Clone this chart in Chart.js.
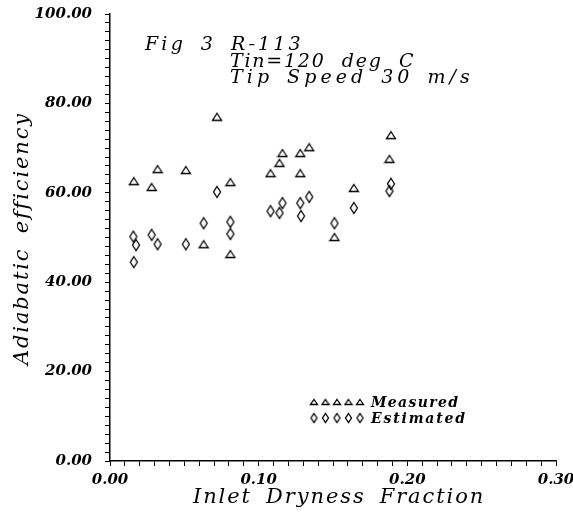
<!DOCTYPE html>
<html lang="en">
<head>
    <meta charset="UTF-8">
    <title>Fig 3 R-113</title>
    <script src="https://cdn.jsdelivr.net/npm/chart.js"></script>
    <style>
        body { margin: 0; background: #fff; }
    </style>
</head>
<body>
    <canvas id="effChart" width="573" height="515"></canvas>

    <script type="text/javascript">
        // values
        var measuredX = [0.016, 0.028, 0.032, 0.051, 0.072, 0.081, 0.063, 0.081, 0.108, 0.114,
                         0.116, 0.128, 0.134, 0.128, 0.164, 0.151, 0.189, 0.188];
        var measuredY = [62.6, 61.3, 65.3, 65.1, 77.0, 62.4, 48.5, 46.3, 64.4, 66.7,
                         68.9, 68.9, 70.2, 64.4, 61.1, 50.1, 72.9, 67.6];

        var estimatedX = [0.0157, 0.0175, 0.016, 0.028, 0.032, 0.051, 0.063, 0.072, 0.081, 0.081,
                          0.108, 0.114, 0.116, 0.128, 0.1285, 0.134, 0.151, 0.164, 0.189, 0.188];
        var estimatedY = [50.2, 48.3, 44.5, 50.6, 48.5, 48.5, 53.2, 60.2, 53.5, 50.8,
                          55.9, 55.5, 57.7, 57.7, 54.8, 59.1, 53.2, 56.6, 62.0, 60.4];

        var xTickLabels = [0, 0.1, 0.2, 0.3];
        var yTickLabels = [0, 20, 40, 60, 80, 100];
        var titleLines = ["Fig 3 R-113", "Tin=120 deg C", "Tip Speed 30 m/s"];
        var seriesNames = ["Measured", "Estimated"];
        var xTitle = "Inlet Dryness Fraction";
        var yTitle = "Adiabatic efficiency";

        function toPoints(xs, ys) {
            return xs.map(function(x, i) { return { x: x, y: ys[i] }; });
        }

        // hollow marker images (the scan's diamonds are taller than wide)
        function triangleMark(w, h) {
            var c = document.createElement("canvas");
            c.width = w + 3; c.height = h + 3;
            var g = c.getContext("2d");
            g.strokeStyle = "#000"; g.lineWidth = 1.3;
            g.beginPath();
            g.moveTo(c.width / 2, 1.5);
            g.lineTo(w + 1.5, h + 1.5);
            g.lineTo(1.5, h + 1.5);
            g.closePath();
            g.stroke();
            return c;
        }
        function diamondMark(w, h) {
            var c = document.createElement("canvas");
            c.width = w + 3; c.height = h + 3;
            var g = c.getContext("2d");
            g.strokeStyle = "#000"; g.lineWidth = 1.3;
            g.beginPath();
            g.moveTo(c.width / 2, 1.5);
            g.lineTo(w + 1.5, c.height / 2);
            g.lineTo(c.width / 2, h + 1.5);
            g.lineTo(1.5, c.height / 2);
            g.closePath();
            g.stroke();
            return c;
        }

        var triBig = triangleMark(9, 7);
        var diaBig = diamondMark(7, 11);
        var triSmall = triangleMark(7, 5);
        var diaSmall = diamondMark(6, 9);

        // draws text char by char: spaces become a fixed gap, letters are
        // spread so the line fills the width it has in the scan
        function spread(ctx, text, x, y, width, gap) {
            var chars = text.split("");
            var nat = 0, spaces = 0;
            chars.forEach(function(c) {
                if (c === " ") spaces++;
                else nat += ctx.measureText(c).width;
            });
            var letters = chars.length - spaces;
            var ls = (width - nat - gap * spaces) / Math.max(1, letters - 1);
            var cx = x;
            chars.forEach(function(c, i) {
                if (c === " ") {
                    cx += gap - ls;
                    return;
                }
                ctx.fillText(c, cx, y);
                cx += ctx.measureText(c).width + ls;
            });
        }

        var textPlugin = {
            id: "figText",
            afterDraw: function(chart) {
                var ctx = chart.ctx;
                ctx.save();
                ctx.fillStyle = "#000";
                ctx.textAlign = "left";
                ctx.textBaseline = "alphabetic";

                ctx.font = 'italic 19px "DejaVu Serif"';
                spread(ctx, titleLines[0], 145, 50, 162, 18);
                spread(ctx, titleLines[1], 230, 67, 187, 18);
                spread(ctx, titleLines[2], 230, 83, 252, 18);

                ctx.font = 'italic 21px "DejaVu Serif"';
                spread(ctx, xTitle, 193, 503, 294, 16);

                ctx.save();
                ctx.translate(28, 365);
                ctx.rotate(-Math.PI / 2);
                spread(ctx, yTitle, 0, 0, 253, 16);
                ctx.restore();

                // legend block inside the plot
                for (var i = 0; i < 5; i++) {
                    var sx = 314 + i * 11.5;
                    ctx.drawImage(triSmall, sx - triSmall.width / 2, 402 - triSmall.height / 2);
                    ctx.drawImage(diaSmall, sx - diaSmall.width / 2, 418 - diaSmall.height / 2);
                }
                ctx.font = 'italic bold 14px "DejaVu Serif"';
                spread(ctx, seriesNames[0], 371, 407, 87, 8);
                spread(ctx, seriesNames[1], 371, 423, 94, 8);
                ctx.restore();
            }
        };

        var tickFont = { family: "DejaVu Serif", style: "italic", weight: "bold", size: 15 };

        var ctx = document.getElementById("effChart").getContext("2d");
        var effChart = new Chart(ctx, {
            type: "scatter",
            data: {
                datasets: [{
                    label: seriesNames[0],
                    data: toPoints(measuredX, measuredY),
                    pointStyle: triBig,
                    pointRadius: 4
                }, {
                    label: seriesNames[1],
                    data: toPoints(estimatedX, estimatedY),
                    pointStyle: diaBig,
                    pointRadius: 4
                }]
            },
            options: {
                responsive: false,
                animation: false,
                layout: { padding: { top: 14, right: 17, bottom: 0, left: 0 } },
                plugins: {
                    legend: { display: false },
                    tooltip: { enabled: false }
                },
                scales: {
                    x: {
                        type: "linear",
                        min: 0,
                        max: 0.3,
                        afterFit: function(s) { s.height = 54; s.paddingLeft = 0; s.paddingRight = 0; },
                        ticks: {
                            stepSize: 0.01,
                            autoSkip: false,
                            maxRotation: 0,
                            padding: 5,
                            color: "#000",
                            font: tickFont,
                            callback: function(v) {
                                var hit = xTickLabels.find(function(t) { return Math.abs(t - v) < 1e-6; });
                                return hit !== undefined ? hit.toFixed(2) : "";
                            }
                        },
                        grid: { drawOnChartArea: false, tickLength: 5, color: "#000", lineWidth: 1 },
                        border: { color: "#000", width: 1.5 }
                    },
                    y: {
                        min: 0,
                        max: 100,
                        afterFit: function(s) { s.width = 110; s.paddingTop = 0; s.paddingBottom = 0; },
                        ticks: {
                            stepSize: 2,
                            autoSkip: false,
                            padding: 13,
                            color: "#000",
                            font: tickFont,
                            callback: function(v) {
                                return yTickLabels.indexOf(v) >= 0 ? v.toFixed(2) : "";
                            }
                        },
                        grid: { drawOnChartArea: false, tickLength: 5, color: "#000", lineWidth: 1 },
                        border: { color: "#000", width: 1.5 }
                    }
                }
            },
            plugins: [textPlugin]
        });
    </script>
</body>
</html>
